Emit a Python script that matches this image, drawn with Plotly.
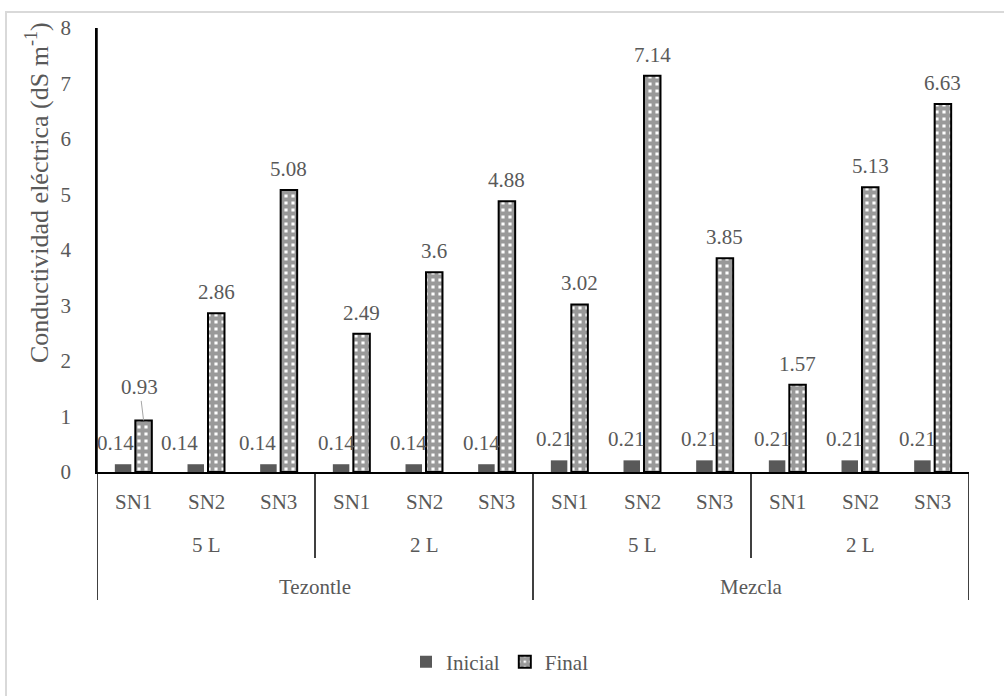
import plotly.graph_objects as go

# Conductividad eléctrica inicial y final por solución nutritiva, volumen y sustrato
soluciones = ["SN1", "SN2", "SN3"] * 4
volumenes = ["5 L", "2 L", "5 L", "2 L"]
sustratos = ["Tezontle", "Mezcla"]
inicial = [0.14, 0.14, 0.14, 0.14, 0.14, 0.14, 0.21, 0.21, 0.21, 0.21, 0.21, 0.21]
final = [0.93, 2.86, 5.08, 2.49, 3.6, 4.88, 3.02, 7.14, 3.85, 1.57, 5.13, 6.63]
y_ticks = [0, 1, 2, 3, 4, 5, 6, 7, 8]

FONT = "'Liberation Serif', 'Times New Roman', 'DejaVu Serif', serif"
GREY = "#595959"
FS = 21

W, H = 1004, 696
L, R, T, B = 97, 35, 28, 224
plot_h = H - T - B


def py(pixel_y):
    """Convert a pixel row into paper y coordinates."""
    return (H - B - pixel_y) / plot_h


idx = list(range(len(soluciones)))

fig = go.Figure()
fig.add_trace(go.Bar(
    x=idx, y=inicial, name="Inicial",
    marker=dict(color=GREY, line=dict(width=0)),
))
fig.add_trace(go.Bar(
    x=idx, y=final, name="Final",
    marker=dict(
        color="white",
        line=dict(color="black", width=2),
        pattern=dict(shape="+", fgcolor="#333333", bgcolor="white",
                     size=7, solidity=0.8),
    ),
))

annotations = []
# Value labels for the initial bars (slightly left of each bar)
label_dx = [-8, -16, -11] + [-5] * 9
for i, v in enumerate(inicial):
    annotations.append(dict(
        x=i - 0.141, y=v, xref="x", yref="y", text=f"{v:g}",
        showarrow=False, yanchor="middle", yshift=21, xshift=label_dx[i],
        font=dict(family=FONT, size=FS, color=GREY),
    ))
# Value labels for the final bars
for i, v in enumerate(final):
    if i == 0:
        annotations.append(dict(
            x=i + 0.141, y=v, xref="x", yref="y", text=f"{v:g}",
            showarrow=True, arrowhead=0, arrowwidth=1, arrowcolor="#a6a6a6",
            ax=-4, ay=-33, standoff=0,
            font=dict(family=FONT, size=FS, color=GREY),
        ))
    else:
        annotations.append(dict(
            x=i + 0.141, y=v, xref="x", yref="y", text=f"{v:g}",
            showarrow=False, yanchor="middle", yshift=21,
            font=dict(family=FONT, size=FS, color=GREY),
        ))

# Three-level category axis drawn beneath the plot
for i, s in enumerate(soluciones):
    annotations.append(dict(
        x=i, y=py(502), xref="x", yref="paper", text=s, showarrow=False,
        yanchor="middle", font=dict(family=FONT, size=FS, color=GREY),
    ))
for g, v in enumerate(volumenes):
    annotations.append(dict(
        x=g * 3 + 1, y=py(545), xref="x", yref="paper", text=v, showarrow=False,
        yanchor="middle", font=dict(family=FONT, size=FS, color=GREY),
    ))
for g, s in enumerate(sustratos):
    annotations.append(dict(
        x=g * 6 + 2.5, y=py(587), xref="x", yref="paper", text=s, showarrow=False,
        yanchor="middle", font=dict(family=FONT, size=FS, color=GREY),
    ))

# Y-axis title
annotations.append(dict(
    x=(37 - L) / (W - L - R), y=py(193), xref="paper", yref="paper",
    text="Conductividad eléctrica (dS m<sup>-1</sup>)", textangle=-90,
    showarrow=False, xanchor="center", yanchor="middle",
    font=dict(family=FONT, size=26, color=GREY),
))

shapes = []
# Outer chart border
shapes.append(dict(type="rect", xref="paper", yref="paper",
                   x0=(6 - L) / (W - L - R), x1=2, y0=py(12), y1=-2,
                   line=dict(color="#d9d9d9", width=2), fillcolor="rgba(0,0,0,0)",
                   layer="below"))
# Left axis line extended through the category rows
shapes.append(dict(type="line", xref="x", yref="paper", x0=-0.5, x1=-0.5,
                   y0=1, y1=py(600), line=dict(color="black", width=1.5)))
# Dividers between groups
for xb, bottom in [(2.5, 558), (5.5, 600), (8.5, 558), (11.5, 600)]:
    shapes.append(dict(type="line", xref="x", yref="paper", x0=xb, x1=xb,
                       y0=0, y1=py(bottom), line=dict(color="black", width=1.5)))

fig.update_layout(
    width=W, height=H,
    margin=dict(l=L, r=R, t=T, b=B),
    paper_bgcolor="white", plot_bgcolor="white",
    barmode="group", bargap=0.436, bargroupgap=0.195,
    showlegend=True,
    legend=dict(orientation="h", x=(500 - L) / (W - L - R), xanchor="center",
                y=py(662), yanchor="middle",
                font=dict(family=FONT, size=FS, color=GREY),
                itemwidth=30),
    xaxis=dict(range=[-0.5, 11.5], showticklabels=False, showgrid=False,
               zeroline=False, showline=True, linecolor="black", linewidth=1.5,
               ticks=""),
    yaxis=dict(range=[0, 8], tickvals=y_ticks, showgrid=False, zeroline=False,
               showline=True, linecolor="black", linewidth=1.5, ticks="",
               ticklabelstandoff=20,
               tickfont=dict(family=FONT, size=FS, color=GREY)),
    annotations=annotations,
    shapes=shapes,
)

fig.write_html("out.html")
